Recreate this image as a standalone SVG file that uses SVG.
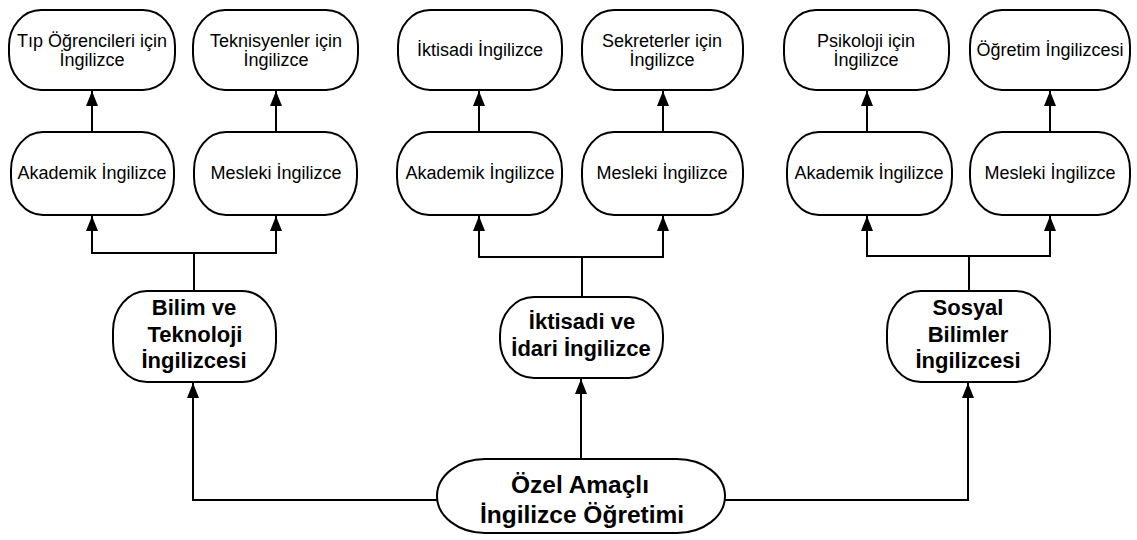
<svg xmlns="http://www.w3.org/2000/svg" width="1137" height="540" viewBox="0 0 1137 540">
  <style>
    .node rect { fill: #ffffff; stroke: #000000; stroke-width: 2; }
    .lbl { font-family: "Liberation Sans", Arial, sans-serif; font-size: 18px; fill: #000000; text-anchor: middle; }
    .hd { font-family: "Liberation Sans", Arial, sans-serif; font-size: 22px; font-weight: bold; fill: #000000; text-anchor: middle; }
    .root { font-family: "Liberation Sans", Arial, sans-serif; font-size: 24.5px; font-weight: bold; fill: #000000; text-anchor: middle; }
    .edge { fill: none; stroke: #000000; stroke-width: 2; }
  </style>
  <defs>
    <marker id="arrow" markerUnits="userSpaceOnUse" markerWidth="15" markerHeight="12" refX="15" refY="6" orient="auto">
      <path d="M0,0 L15,6 L0,12 z" fill="#000000"/>
    </marker>
  </defs>
  <rect width="1137" height="540" fill="#ffffff"/>

  <!-- connectors -->
  <g id="connectors">
    <!-- level 2 to level 3 -->
    <path class="edge" d="M92,132 L92,91" marker-end="url(#arrow)"/>
    <path class="edge" d="M276,132 L276,91" marker-end="url(#arrow)"/>
    <path class="edge" d="M479,132 L479,91" marker-end="url(#arrow)"/>
    <path class="edge" d="M663,132 L663,91" marker-end="url(#arrow)"/>
    <path class="edge" d="M867,132 L867,91" marker-end="url(#arrow)"/>
    <path class="edge" d="M1050,132 L1050,91" marker-end="url(#arrow)"/>
    <!-- level 1 to level 2 -->
    <path class="edge" d="M194,291 L194,253"/>
    <path class="edge" d="M194,253 L92,253 L92,216" marker-end="url(#arrow)"/>
    <path class="edge" d="M194,253 L276,253 L276,216" marker-end="url(#arrow)"/>
    <path class="edge" d="M582,297 L582,257"/>
    <path class="edge" d="M582,257 L479,257 L479,216" marker-end="url(#arrow)"/>
    <path class="edge" d="M582,257 L663,257 L663,216" marker-end="url(#arrow)"/>
    <path class="edge" d="M969,291 L969,256"/>
    <path class="edge" d="M969,256 L867,256 L867,216" marker-end="url(#arrow)"/>
    <path class="edge" d="M969,256 L1050,256 L1050,216" marker-end="url(#arrow)"/>
    <!-- root to level 1 -->
    <path class="edge" d="M437,500 L193,500 L193,383" marker-end="url(#arrow)"/>
    <path class="edge" d="M581,459 L581,379" marker-end="url(#arrow)"/>
    <path class="edge" d="M725,500 L968,500 L968,383" marker-end="url(#arrow)"/>
  </g>

  <!-- level 3 -->
  <g id="tip" class="node">
    <rect x="9" y="10" width="166" height="80" rx="32" ry="36"/>
    <text class="lbl" x="92" y="47">Tıp Öğrencileri için</text>
    <text class="lbl" x="92" y="66">İngilizce</text>
  </g>
  <g id="teknisyen" class="node">
    <rect x="193" y="10" width="165" height="80" rx="32" ry="36"/>
    <text class="lbl" x="276" y="47">Teknisyenler için</text>
    <text class="lbl" x="276" y="66">İngilizce</text>
  </g>
  <g id="iktisadi" class="node">
    <rect x="398" y="10" width="164" height="80" rx="32" ry="36"/>
    <text class="lbl" x="480" y="56">İktisadi İngilizce</text>
  </g>
  <g id="sekreter" class="node">
    <rect x="582" y="10" width="161" height="80" rx="32" ry="36"/>
    <text class="lbl" x="662" y="47">Sekreterler için</text>
    <text class="lbl" x="662" y="66">İngilizce</text>
  </g>
  <g id="psikoloji" class="node">
    <rect x="784" y="10" width="165" height="80" rx="32" ry="36"/>
    <text class="lbl" x="866" y="47">Psikoloji için</text>
    <text class="lbl" x="866" y="66">İngilizce</text>
  </g>
  <g id="ogretim" class="node">
    <rect x="970" y="10" width="160" height="80" rx="32" ry="36"/>
    <text class="lbl" x="1050" y="56">Öğretim İngilizcesi</text>
  </g>

  <!-- level 2 -->
  <g id="akademik1" class="node">
    <rect x="11" y="132" width="163" height="83" rx="32" ry="38"/>
    <text class="lbl" x="92" y="179">Akademik İngilizce</text>
  </g>
  <g id="mesleki1" class="node">
    <rect x="194" y="132" width="163" height="83" rx="32" ry="38"/>
    <text class="lbl" x="276" y="179">Mesleki İngilizce</text>
  </g>
  <g id="akademik2" class="node">
    <rect x="397" y="132" width="165" height="83" rx="32" ry="38"/>
    <text class="lbl" x="480" y="179">Akademik İngilizce</text>
  </g>
  <g id="mesleki2" class="node">
    <rect x="582" y="132" width="161" height="83" rx="32" ry="38"/>
    <text class="lbl" x="662" y="179">Mesleki İngilizce</text>
  </g>
  <g id="akademik3" class="node">
    <rect x="787" y="132" width="165" height="83" rx="32" ry="38"/>
    <text class="lbl" x="869" y="179">Akademik İngilizce</text>
  </g>
  <g id="mesleki3" class="node">
    <rect x="970" y="132" width="160" height="83" rx="32" ry="38"/>
    <text class="lbl" x="1050" y="179">Mesleki İngilizce</text>
  </g>

  <!-- level 1 -->
  <g id="bilim" class="node">
    <rect x="113" y="291" width="163" height="91" rx="34" ry="40"/>
    <text class="hd" x="194" y="315">Bilim ve</text>
    <text class="hd" x="195" y="342">Teknoloji</text>
    <text class="hd" x="194" y="368">İngilizcesi</text>
  </g>
  <g id="iktisadi-idari" class="node">
    <rect x="500" y="297" width="163" height="81" rx="34" ry="38"/>
    <text class="hd" x="582" y="329">İktisadi ve</text>
    <text class="hd" x="581" y="356">İdari İngilizce</text>
  </g>
  <g id="sosyal" class="node">
    <rect x="887" y="291" width="163" height="91" rx="34" ry="40"/>
    <text class="hd" x="968" y="315">Sosyal</text>
    <text class="hd" x="968" y="342">Bilimler</text>
    <text class="hd" x="968" y="368">İngilizcesi</text>
  </g>

  <!-- root -->
  <g id="ozel" class="node">
    <rect x="437" y="459" width="288" height="74" rx="48" ry="37"/>
    <text class="root" x="580" y="493">Özel Amaçlı</text>
    <text class="root" x="582" y="523">İngilizce Öğretimi</text>
  </g>
</svg>
